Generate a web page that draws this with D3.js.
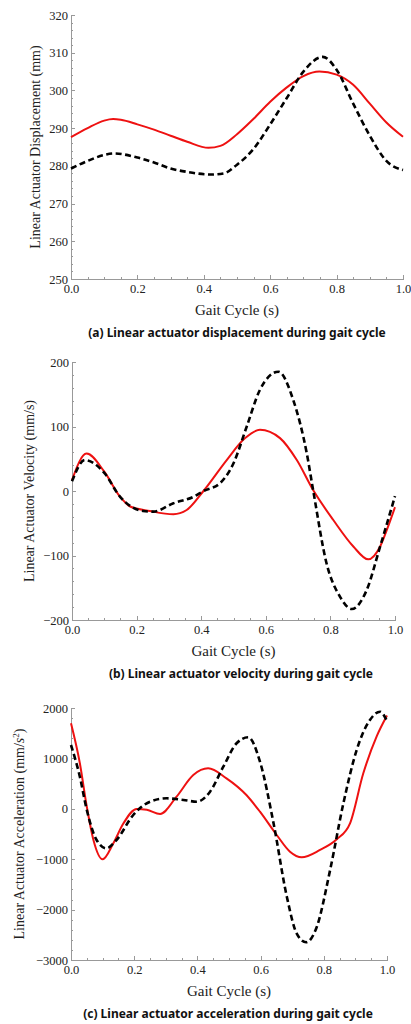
<!DOCTYPE html>
<html>
<head>
<meta charset="utf-8">
<script src="https://cdn.jsdelivr.net/npm/d3@7"></script>
<style>
body { margin: 0; background: #fff; }
svg { display: block; }
.axis path, .axis line { stroke: #999; shape-rendering: crispEdges; }
.axis text { font-family: "Liberation Serif", "DejaVu Serif", serif; font-size: 12.5px; fill: #222; }
.title { font-family: "Liberation Serif", serif; font-size: 14px; fill: #222; }
.xtitle { font-size: 15px; }
.caption { font-family: "Noto Sans", "DejaVu Sans", sans-serif; font-weight: bold; font-size: 12px; fill: #111; }
</style>
</head>
<body>
<svg id="chart" width="411" height="1024"></svg>
<script>
// x values are gait cycle time (s); each curve has its own sample times
var xTicks = [0, 0.2, 0.4, 0.6, 0.8, 1.0];

// (a) displacement, mm
var dispTicks = [250, 260, 270, 280, 290, 300, 310, 320];
var dispSolidT = [0, 0.05, 0.1, 0.127, 0.15, 0.2, 0.25, 0.3, 0.35, 0.414, 0.45, 0.5, 0.55, 0.6, 0.65, 0.7, 0.748, 0.8, 0.85, 0.9, 0.95, 1.0];
var dispSolid = [287.6, 290.0, 292.0, 292.4, 292.2, 291.0, 289.6, 288.0, 286.4, 284.8, 285.3, 288.4, 292.5, 297.0, 300.8, 303.8, 305.0, 304.2, 301.5, 296.5, 291.5, 287.7];
var dispDashedT = [0, 0.05, 0.1, 0.13, 0.2, 0.25, 0.3, 0.35, 0.42, 0.46, 0.5, 0.55, 0.6, 0.65, 0.7, 0.758, 0.8, 0.85, 0.9, 0.95, 1.0];
var dispDashed = [279.3, 281.3, 282.9, 283.3, 282.2, 280.9, 279.3, 278.4, 277.7, 278.0, 280.3, 284.5, 291.0, 298.0, 305.0, 308.9, 305.5, 296.5, 288.0, 281.3, 278.9];

// (b) velocity, mm/s
var velTicks = [-200, -100, 0, 100, 200];
var velSolidT = [0, 0.045, 0.1, 0.149, 0.18, 0.241, 0.314, 0.355, 0.407, 0.479, 0.536, 0.582, 0.644, 0.696, 0.747, 0.809, 0.871, 0.917, 0.954, 0.975, 1.0];
var velSolid = [17, 58, 30, -9, -24, -31, -36, -29.5, 0, 48, 82, 95, 82, 48, 1, -45, -86, -106, -86, -60, -25];
var velDashedT = [0, 0.04, 0.1, 0.149, 0.22, 0.252, 0.314, 0.376, 0.407, 0.458, 0.5, 0.541, 0.582, 0.639, 0.685, 0.727, 0.747, 0.788, 0.83, 0.866, 0.912, 0.954, 1.0];
var velDashed = [15, 48, 28, -9, -31, -32, -19, -9, 0, 12, 43, 100, 157, 185, 141, 58, 0, -112, -164, -183, -154, -86, -8];

// (c) acceleration, mm/s^2
var accTicks = [-3000, -2000, -1000, 0, 1000, 2000];
var accSolidT = [0, 0.028, 0.05, 0.071, 0.1, 0.134, 0.166, 0.208, 0.24, 0.282, 0.334, 0.387, 0.434, 0.492, 0.555, 0.598, 0.651, 0.693, 0.73, 0.788, 0.841, 0.883, 0.925, 0.967, 1.0];
var accSolid = [1696, 903, 42, -619, -1002, -685, -288, -4, -20, -103, 240, 671, 803, 605, 274, -57, -520, -851, -963, -817, -605, -288, 704, 1431, 1850];
var accDashedT = [0, 0.028, 0.05, 0.081, 0.112, 0.144, 0.197, 0.25, 0.303, 0.356, 0.398, 0.44, 0.482, 0.524, 0.561, 0.598, 0.641, 0.683, 0.714, 0.744, 0.778, 0.82, 0.862, 0.904, 0.946, 0.978, 1.0];
var accDashed = [1266, 637, -24, -619, -784, -619, -123, 141, 208, 175, 141, 340, 835, 1300, 1419, 935, -288, -1744, -2471, -2649, -2339, -1214, 109, 1167, 1762, 1927, 1740];

var svg = d3.select("#chart");

var panels = [
    { left: 71, right: 403, top: 15, bottom: 279, yTicks: dispTicks,
      solidT: dispSolidT, solid: dispSolid, dashedT: dispDashedT, dashed: dispDashed,
      yTitle: ["Linear Actuator Displacement (mm)"], yTitleX: 35,
      caption: "(a) Linear actuator displacement during gait cycle", capX: 237, capY: 337 },
    { left: 72, right: 395, top: 362, bottom: 620, yTicks: velTicks,
      solidT: velSolidT, solid: velSolid, dashedT: velDashedT, dashed: velDashed,
      yTitle: ["Linear Actuator Velocity (mm/s)"], yTitleX: 29,
      caption: "(b) Linear actuator velocity during gait cycle", capX: 241, capY: 678 },
    { left: 71, right: 387, top: 708, bottom: 960, yTicks: accTicks,
      solidT: accSolidT, solid: accSolid, dashedT: accDashedT, dashed: accDashed,
      yTitle: ["Linear Actuator Acceleration (mm/", "s", "2", ")"], yTitleX: 19,
      caption: "(c) Linear actuator acceleration during gait cycle", capX: 228, capY: 1018 }
];

function fmtY(d) {
    return d < 0 ? "\u2212" + Math.abs(d) : String(d);
}

function drawPanel(p) {
    var yMin = p.yTicks[0], yMax = p.yTicks[p.yTicks.length - 1];
    var step = p.yTicks[1] - p.yTicks[0];
    var x = d3.scaleLinear().domain([0, 1]).range([p.left, p.right]);
    var y = d3.scaleLinear().domain([yMin, yMax]).range([p.bottom, p.top]);

    // minor ticks first, then the major ones on top
    svg.append("g")
       .attr("class", "axis")
       .attr("transform", "translate(0," + p.bottom + ")")
       .call(d3.axisBottom(x).tickValues(d3.range(0, 21).map(function (i) { return i * 0.05; }))
               .tickSize(-2).tickSizeOuter(0).tickFormat(""));
    svg.append("g")
       .attr("class", "axis")
       .attr("transform", "translate(" + p.left + ",0)")
       .call(d3.axisLeft(y).tickValues(d3.range(0, (yMax - yMin) / step * 5 + 1).map(function (i) { return yMin + i * step / 5; }))
               .tickSize(-2).tickSizeOuter(0).tickFormat(""));

    svg.append("g")
       .attr("class", "axis")
       .attr("transform", "translate(0," + p.bottom + ")")
       .call(d3.axisBottom(x).tickValues(xTicks).tickSize(-4).tickSizeOuter(0)
               .tickPadding(5.5).tickFormat(d3.format(".1f")));
    svg.append("g")
       .attr("class", "axis")
       .attr("transform", "translate(" + p.left + ",0)")
       .call(d3.axisLeft(y).tickValues(p.yTicks).tickSize(-4).tickSizeOuter(0)
               .tickPadding(3).tickFormat(fmtY));

    var line = d3.line()
                 .x(function (d) { return x(d[0]); })
                 .y(function (d) { return y(d[1]); })
                 .curve(d3.curveMonotoneX);

    svg.append("path")
       .datum(d3.zip(p.solidT, p.solid))
       .attr("d", line)
       .attr("fill", "none")
       .attr("stroke", "#ee1111")
       .attr("stroke-width", 2);

    svg.append("path")
       .datum(d3.zip(p.dashedT, p.dashed))
       .attr("d", line)
       .attr("fill", "none")
       .attr("stroke", "#000")
       .attr("stroke-width", 2.6)
       .attr("stroke-dasharray", "6,3.5");

    // axis titles
    svg.append("text")
       .attr("class", "title xtitle")
       .attr("x", (p.left + p.right) / 2)
       .attr("y", p.bottom + 36)
       .attr("text-anchor", "middle")
       .text("Gait Cycle (s)");

    var yt = svg.append("text")
                .attr("class", "title")
                .attr("text-anchor", "middle")
                .attr("transform", "translate(" + p.yTitleX + "," + (p.top + p.bottom) / 2 + ") rotate(-90)")
                .attr("dy", "0.35em");
    yt.append("tspan").text(p.yTitle[0]);
    if (p.yTitle.length > 1) {
        yt.append("tspan").attr("font-style", "italic").text(p.yTitle[1]);
        yt.append("tspan").attr("font-size", "9px").attr("dy", "-5").text(p.yTitle[2]);
        yt.append("tspan").attr("dy", "5").text(p.yTitle[3]);
    }

    svg.append("text")
       .attr("class", "caption")
       .attr("x", p.capX)
       .attr("y", p.capY)
       .attr("text-anchor", "middle")
       .text(p.caption);
}

panels.forEach(drawPanel);
</script>
</body>
</html>
